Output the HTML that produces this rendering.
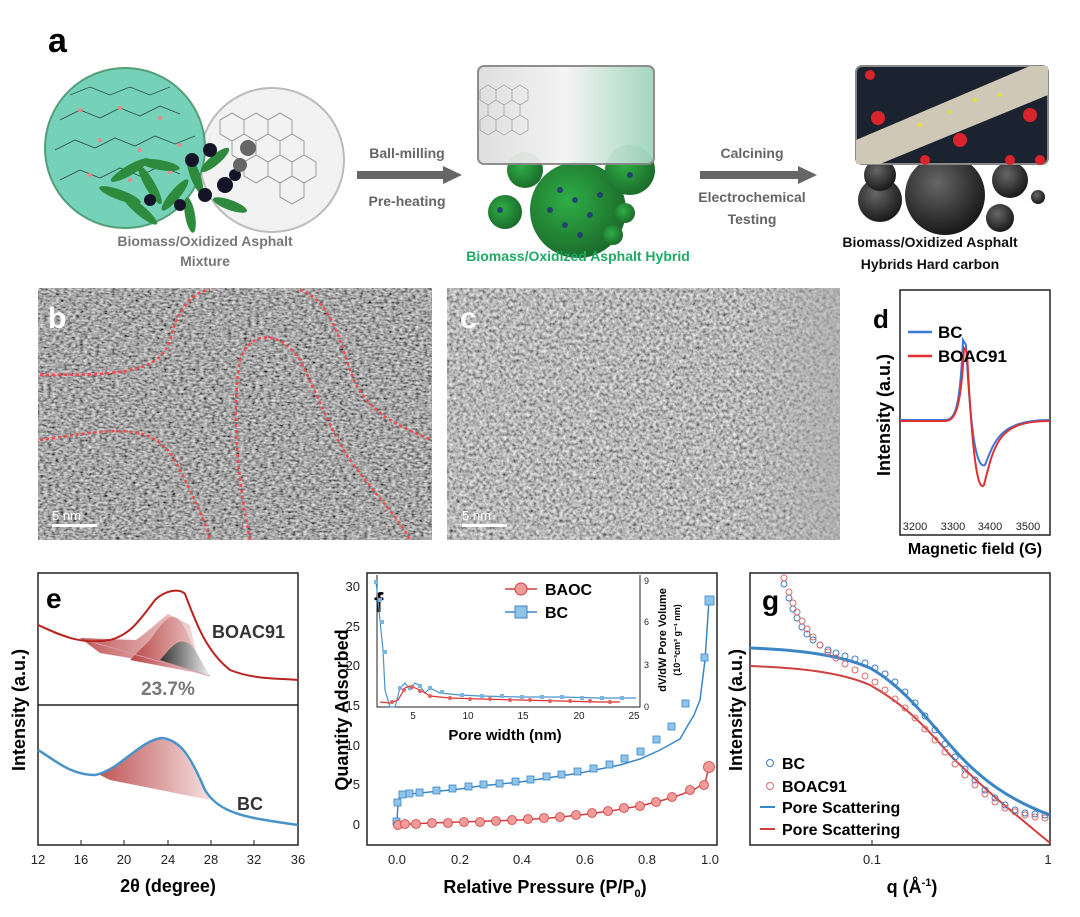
<!DOCTYPE html>
<html><head><meta charset="utf-8"><style>
html,body{margin:0;padding:0;background:#fff}
svg{display:block;font-family:"Liberation Sans",Arial,sans-serif}
</style></head><body>
<svg width="1080" height="917" viewBox="0 0 1080 917" xmlns="http://www.w3.org/2000/svg">
<defs>
<filter id="tem" x="0" y="0" width="100%" height="100%">
<feTurbulence type="fractalNoise" baseFrequency="0.25 0.45" numOctaves="2" seed="3"/>
<feColorMatrix type="matrix" values="1.1 0 0 0 -0.17  1.1 0 0 0 -0.17  1.1 0 0 0 -0.17  0 0 0 0 1"/>
</filter>
<filter id="tem2" x="0" y="0" width="100%" height="100%">
<feTurbulence type="fractalNoise" baseFrequency="0.3" numOctaves="2" seed="7"/>
<feColorMatrix type="matrix" values="1.1 0 0 0 -0.08  1.1 0 0 0 -0.08  1.1 0 0 0 -0.08  0 0 0 0 1"/>
</filter>
<radialGradient id="gs" cx="40%" cy="40%" r="60%"><stop offset="0" stop-color="#2fae45"/><stop offset="1" stop-color="#1c6d2c"/></radialGradient>
<radialGradient id="ds" cx="40%" cy="35%" r="65%"><stop offset="0" stop-color="#666"/><stop offset="1" stop-color="#1a1a1a"/></radialGradient>
<linearGradient id="mid" x1="0" x2="1"><stop offset="0" stop-color="#ddd"/><stop offset="0.5" stop-color="#f4f4f4"/><stop offset="1" stop-color="#9fd4bd"/></linearGradient>
<linearGradient id="rs" x1="0" y1="0" x2="1" y2="0"><stop offset="0" stop-color="#b84545"/><stop offset="1" stop-color="#f4dada"/></linearGradient>
<linearGradient id="gk" x1="0" y1="0" x2="1" y2="0"><stop offset="0" stop-color="#333"/><stop offset="1" stop-color="#eee"/></linearGradient>
<linearGradient id="cfade" x1="0" x2="1"><stop offset="0" stop-color="#aaa" stop-opacity="0"/><stop offset="1" stop-color="#aaa" stop-opacity="0.6"/></linearGradient>
</defs>

<!-- Panel a -->
<text x="48" y="52" font-size="34" font-weight="bold">a</text>
<circle cx="272" cy="160" r="72" fill="#f2f2f2" stroke="#bbb" stroke-width="2"/>
<g stroke="#888" stroke-width="0.8" fill="none">
<path d="M220 120 l12 -7 12 7 0 14 -12 7 -12 -7z M244 120 l12 -7 12 7 0 14 -12 7 -12 -7z M268 120 l12 -7 12 7 0 14 -12 7 -12 -7z M232 141 l12 -7 12 7 0 14 -12 7 -12 -7z M256 141 l12 -7 12 7 0 14 -12 7 -12 -7z M280 141 l12 -7 12 7 0 14 -12 7 -12 -7z M244 162 l12 -7 12 7 0 14 -12 7 -12 -7z M268 162 l12 -7 12 7 0 14 -12 7 -12 -7z M292 162 l12 -7 12 7 0 14 -12 7 -12 -7z M280 183 l12 -7 12 7 0 14 -12 7 -12 -7z"/>
</g>
<circle cx="125" cy="148" r="80" fill="#6fcfb6" stroke="#4a9a70" stroke-width="2" opacity="0.95"/>
<g stroke="#2f4f45" stroke-width="0.8" fill="none">
<path d="M60 120 l20 -10 20 8 20 -10 20 8 20 -10 20 8 M55 150 l20 -10 20 8 20 -10 20 8 20 -10 20 8 20 -8 M60 180 l20 -10 20 8 20 -10 20 8 20 -10 20 8 M70 95 l20 -8 20 8 20 -8 20 8 20 -8"/>
</g>
<g fill="#e88" ><circle cx="80" cy="110" r="2"/><circle cx="120" cy="108" r="2"/><circle cx="160" cy="118" r="2"/><circle cx="100" cy="140" r="2"/><circle cx="140" cy="150" r="2"/><circle cx="180" cy="145" r="2"/><circle cx="90" cy="175" r="2"/><circle cx="130" cy="180" r="2"/><circle cx="170" cy="172" r="2"/></g>
<g fill="#2e8b3e">
<ellipse cx="130" cy="170" rx="22" ry="5" transform="rotate(-30 130 170)"/><ellipse cx="150" cy="185" rx="22" ry="5" transform="rotate(60 150 185)"/>
<ellipse cx="120" cy="195" rx="22" ry="5" transform="rotate(20 120 195)"/><ellipse cx="175" cy="195" rx="20" ry="5" transform="rotate(-50 175 195)"/>
<ellipse cx="140" cy="210" rx="22" ry="5" transform="rotate(40 140 210)"/><ellipse cx="195" cy="175" rx="20" ry="5" transform="rotate(70 195 175)"/>
<ellipse cx="160" cy="165" rx="20" ry="5" transform="rotate(10 160 165)"/><ellipse cx="215" cy="160" rx="18" ry="5" transform="rotate(-40 215 160)"/>
<ellipse cx="230" cy="205" rx="18" ry="5" transform="rotate(20 230 205)"/><ellipse cx="190" cy="215" rx="18" ry="5" transform="rotate(80 190 215)"/>
</g>
<g fill="#15152a"><circle cx="210" cy="150" r="7"/><circle cx="192" cy="160" r="7"/><circle cx="225" cy="185" r="8"/><circle cx="205" cy="195" r="7"/><circle cx="235" cy="175" r="6"/><circle cx="180" cy="205" r="6"/><circle cx="150" cy="200" r="6"/></g>
<g fill="#666"><circle cx="248" cy="148" r="8"/><circle cx="240" cy="165" r="7"/></g>
<text x="205" y="246" font-size="14" font-weight="bold" fill="#777" text-anchor="middle">Biomass/Oxidized Asphalt</text>
<text x="205" y="266" font-size="14" font-weight="bold" fill="#777" text-anchor="middle">Mixture</text>

<text x="407" y="158" font-size="14" font-weight="bold" fill="#666" text-anchor="middle">Ball-milling</text>
<rect x="357" y="171" width="88" height="8" fill="#666"/><path d="M443 166 L462 175 L443 184z" fill="#666"/>
<text x="407" y="206" font-size="14" font-weight="bold" fill="#666" text-anchor="middle">Pre-heating</text>

<circle cx="578" cy="210" r="48" fill="url(#gs)"/><circle cx="505" cy="212" r="17" fill="url(#gs)"/>
<circle cx="630" cy="170" r="25" fill="url(#gs)"/><circle cx="525" cy="170" r="18" fill="url(#gs)"/><circle cx="625" cy="213" r="10" fill="url(#gs)"/><circle cx="613" cy="235" r="10" fill="url(#gs)"/>
<g fill="#23307a" opacity="0.8"><circle cx="560" cy="190" r="3"/><circle cx="575" cy="200" r="3"/><circle cx="590" cy="215" r="3"/><circle cx="565" cy="225" r="3"/><circle cx="600" cy="195" r="3"/><circle cx="550" cy="210" r="3"/><circle cx="580" cy="235" r="3"/><circle cx="500" cy="210" r="3"/><circle cx="630" cy="175" r="3"/></g>
<rect x="478" y="66" width="176" height="98" rx="6" fill="url(#mid)" stroke="#888" stroke-width="2" opacity="0.95"/>
<g stroke="#999" stroke-width="0.7" fill="none"><path d="M480 90 l8 -5 8 5 0 10 -8 5 -8 -5z M496 90 l8 -5 8 5 0 10 -8 5 -8 -5z M512 90 l8 -5 8 5 0 10 -8 5 -8 -5z M488 105 l8 -5 8 5 0 10 -8 5 -8 -5z M504 105 l8 -5 8 5 0 10 -8 5 -8 -5z M480 120 l8 -5 8 5 0 10 -8 5 -8 -5z M496 120 l8 -5 8 5 0 10 -8 5 -8 -5z M512 120 l8 -5 8 5 0 10 -8 5 -8 -5z"/></g>
<text x="578" y="261" font-size="14" font-weight="bold" fill="#1faa64" text-anchor="middle">Biomass/Oxidized Asphalt Hybrid</text>

<text x="752" y="158" font-size="14" font-weight="bold" fill="#666" text-anchor="middle">Calcining</text>
<rect x="700" y="171" width="100" height="8" fill="#666"/><path d="M798 166 L817 175 L798 184z" fill="#666"/>
<text x="752" y="202" font-size="14" font-weight="bold" fill="#666" text-anchor="middle">Electrochemical</text>
<text x="752" y="224" font-size="14" font-weight="bold" fill="#666" text-anchor="middle">Testing</text>

<circle cx="945" cy="195" r="40" fill="url(#ds)"/><circle cx="880" cy="200" r="22" fill="url(#ds)"/><circle cx="1010" cy="180" r="18" fill="url(#ds)"/>
<circle cx="1000" cy="218" r="14" fill="url(#ds)"/><circle cx="1038" cy="197" r="7" fill="url(#ds)"/><circle cx="880" cy="175" r="16" fill="url(#ds)"/>
<rect x="856" y="66" width="192" height="98" rx="6" fill="#1c2330" stroke="#888" stroke-width="2"/>
<path d="M856 140 L1030 66 L1048 66 L1048 95 L880 164 L856 164z" fill="#cfc8b6"/>
<g fill="#d8242a"><circle cx="870" cy="75" r="5"/><circle cx="878" cy="118" r="7"/><circle cx="960" cy="140" r="7"/><circle cx="1030" cy="115" r="7"/><circle cx="1010" cy="160" r="5"/><circle cx="925" cy="160" r="5"/><circle cx="1040" cy="160" r="5"/></g>
<g fill="#e7e030"><circle cx="950" cy="112" r="2"/><circle cx="975" cy="100" r="2"/><circle cx="1000" cy="95" r="2"/><circle cx="920" cy="125" r="2"/></g>
<text x="930" y="247" font-size="14" font-weight="bold" fill="#111" text-anchor="middle">Biomass/Oxidized Asphalt</text>
<text x="930" y="269" font-size="14" font-weight="bold" fill="#111" text-anchor="middle">Hybrids Hard carbon</text>

<!-- Panel b, c TEM -->
<rect x="38" y="288" width="394" height="252" filter="url(#tem)"/>
<rect x="447" y="288" width="393" height="252" filter="url(#tem2)"/>
<rect x="740" y="288" width="100" height="252" fill="url(#cfade)"/>
<g fill="none" stroke="#ef4b4b" stroke-width="2.5" stroke-dasharray="3 3">
<path d="M40 375 C110 375 160 375 170 340 C180 300 200 290 210 290"/>
<path d="M40 440 C110 430 150 420 175 460 C195 500 205 520 210 540"/>
<path d="M250 540 C240 490 230 420 240 360 C250 330 280 330 300 360 C320 400 330 430 350 460 C380 500 400 520 410 540"/>
<path d="M300 290 C330 300 340 340 350 370 C360 400 380 420 432 440"/>
</g>
<text x="48" y="328" font-size="30" font-weight="bold" fill="#fff">b</text>
<text x="460" y="328" font-size="30" font-weight="bold" fill="#fff">c</text>
<rect x="52" y="524" width="45" height="3" fill="#fff"/><text x="52" y="520" font-size="13" fill="#fff">5 nm</text>
<rect x="462" y="524" width="45" height="3" fill="#fff"/><text x="462" y="520" font-size="13" fill="#fff">5 nm</text>

<!-- Panel d -->
<text x="873" y="328" font-size="26" font-weight="bold">d</text>
<rect x="900" y="290" width="150" height="245" fill="none" stroke="#222" stroke-width="1.5"/>
<path d="M900 420 L945 420 C955 420 960 410 963 340 L966 345 C970 420 975 470 985 465 C995 440 1000 420 1050 420" fill="none" stroke="#3a78d8" stroke-width="2"/>
<path d="M900 421 L945 421 C955 421 961 410 964 348 L967 352 C971 430 976 495 984 485 C995 440 1000 421 1050 421" fill="none" stroke="#e03030" stroke-width="2"/>
<line x1="908" y1="332" x2="932" y2="332" stroke="#3a78d8" stroke-width="2.5"/><text x="938" y="338" font-size="17" font-weight="bold">BC</text>
<line x1="908" y1="356" x2="932" y2="356" stroke="#e03030" stroke-width="2.5"/><text x="938" y="362" font-size="17" font-weight="bold">BOAC91</text>
<g font-size="11" text-anchor="middle" fill="#222"><text x="915" y="530">3200</text><text x="953" y="530">3300</text><text x="990" y="530">3400</text><text x="1028" y="530">3500</text></g>
<text x="975" y="554" font-size="16" font-weight="bold" text-anchor="middle">Magnetic field (G)</text>
<text transform="translate(890 415) rotate(-90)" font-size="18" font-weight="bold" text-anchor="middle">Intensity (a.u.)</text>

<!-- Panel e -->
<rect x="38" y="573" width="260" height="272" fill="none" stroke="#222" stroke-width="1.5"/>
<line x1="38" y1="705" x2="298" y2="705" stroke="#222" stroke-width="1.5"/>
<path d="M80 638 L136 640 C150 630 160 620 168 614 L190 625 L200 670 L100 653z" fill="url(#rs)" opacity="0.9"/>
<path d="M150 640 C165 620 175 600 190 640 L208 675 L130 660z" fill="url(#rs)"/>
<path d="M160 660 C170 650 180 630 195 650 L210 676z" fill="url(#gk)"/>
<path d="M85 640 L210 676" stroke="#d9a" stroke-width="1"/>
<path d="M38 625 C60 635 80 645 110 640 C130 635 140 620 155 600 C165 590 180 588 185 594 C195 620 205 650 230 670 C255 680 280 678 298 680" fill="none" stroke="#b8241f" stroke-width="2"/>
<text x="212" y="638" font-size="18" font-weight="bold" fill="#333">BOAC91</text>
<text x="141" y="695" font-size="19" font-weight="bold" fill="#777">23.7%</text>
<path d="M100 775 C130 760 145 735 165 740 C185 742 195 775 210 800 L110 780z" fill="url(#rs)" opacity="0.9"/>
<path d="M38 750 C55 760 70 775 95 775 C120 770 140 740 162 738 C180 740 190 755 205 790 C220 815 250 818 298 825" fill="none" stroke="#4a93c9" stroke-width="2.5"/>
<text x="237" y="810" font-size="18" font-weight="bold" fill="#333">BC</text>
<text x="46" y="608" font-size="28" font-weight="bold">e</text>
<g stroke="#222"><line x1="81" y1="845" x2="81" y2="840"/><line x1="124" y1="845" x2="124" y2="840"/><line x1="168" y1="845" x2="168" y2="840"/><line x1="211" y1="845" x2="211" y2="840"/><line x1="254" y1="845" x2="254" y2="840"/></g>
<g font-size="13" text-anchor="middle" fill="#222"><text x="38" y="864">12</text><text x="81" y="864">16</text><text x="124" y="864">20</text><text x="168" y="864">24</text><text x="211" y="864">28</text><text x="254" y="864">32</text><text x="298" y="864">36</text></g>
<text x="168" y="892" font-size="18" font-weight="bold" text-anchor="middle">2θ (degree)</text>
<text transform="translate(25 710) rotate(-90)" font-size="18" font-weight="bold" text-anchor="middle">Intensity (a.u.)</text>

<!-- Panel f -->
<rect x="367" y="573" width="350" height="272" fill="none" stroke="#222" stroke-width="1.5"/>
<text x="374" y="612" font-size="28" font-weight="bold">f</text>
<g font-size="13" fill="#222" text-anchor="end"><text x="360" y="829">0</text><text x="360" y="789">5</text><text x="360" y="750">10</text><text x="360" y="710">15</text><text x="360" y="670">20</text><text x="360" y="631">25</text><text x="360" y="591">30</text></g>
<g font-size="13" fill="#222" text-anchor="middle"><text x="397" y="864">0.0</text><text x="460" y="864">0.2</text><text x="522" y="864">0.4</text><text x="585" y="864">0.6</text><text x="647" y="864">0.8</text><text x="710" y="864">1.0</text></g>
<text x="545" y="893" font-size="18" font-weight="bold" text-anchor="middle">Relative Pressure (P/P<tspan font-size="11" dy="4">0</tspan><tspan dy="-4">)</tspan></text>
<text transform="translate(348 710) rotate(-90)" font-size="18" font-weight="bold" text-anchor="middle">Quantity Adsorbed</text>
<!-- inset -->
<path d="M377 575 L377 707 L640 707 L640 575" fill="none" stroke="#222" stroke-width="1"/>
<g font-size="10" fill="#222" text-anchor="middle"><text x="413" y="719">5</text><text x="468" y="719">10</text><text x="523" y="719">15</text><text x="579" y="719">20</text><text x="634" y="719">25</text></g>
<g font-size="9" fill="#222"><text x="644" y="710">0</text><text x="644" y="668">3</text><text x="644" y="625">6</text><text x="644" y="584">9</text></g>
<text x="505" y="740" font-size="15" font-weight="bold" text-anchor="middle">Pore width (nm)</text>
<text transform="translate(666 640) rotate(-90)" font-size="11" font-weight="bold" text-anchor="middle">dV/dW Pore Volume</text>
<text transform="translate(680 640) rotate(-90)" font-size="9" font-weight="bold" text-anchor="middle">(10⁻³cm³ g⁻¹ nm)</text>
<polyline points="376,582 378,600 380,620 383,650 385,690 390,707 395,707 400,688 405,683 410,690 415,683 420,686 425,693 430,688 440,693 460,695 480,696 520,697 560,697 600,698 636,698" fill="none" stroke="#4a93c9" stroke-width="1.2"/>
<g fill="#7bb6e0"><rect x="374" y="580" width="4" height="4"/><rect x="378" y="598" width="4" height="4"/><rect x="380" y="620" width="4" height="4"/><rect x="383" y="650" width="4" height="4"/><rect x="398" y="686" width="4" height="4"/><rect x="408" y="686" width="4" height="4"/><rect x="418" y="684" width="4" height="4"/><rect x="428" y="686" width="4" height="4"/><rect x="440" y="690" width="4" height="4"/><rect x="460" y="693" width="4" height="4"/><rect x="480" y="694" width="4" height="4"/><rect x="500" y="694" width="4" height="4"/><rect x="520" y="695" width="4" height="4"/><rect x="540" y="695" width="4" height="4"/><rect x="560" y="695" width="4" height="4"/><rect x="580" y="696" width="4" height="4"/><rect x="600" y="696" width="4" height="4"/><rect x="620" y="696" width="4" height="4"/></g>
<polyline points="380,702 390,703 398,700 405,688 410,686 420,690 430,696 450,698 480,699 520,700 560,701 600,702 620,702" fill="none" stroke="#e03030" stroke-width="1.2"/>
<g fill="#e06060"><circle cx="392" cy="702" r="2"/><circle cx="404" cy="690" r="2"/><circle cx="412" cy="687" r="2"/><circle cx="420" cy="691" r="2"/><circle cx="430" cy="696" r="2"/><circle cx="450" cy="698" r="2"/><circle cx="470" cy="699" r="2"/><circle cx="490" cy="699" r="2"/><circle cx="510" cy="700" r="2"/><circle cx="530" cy="700" r="2"/><circle cx="550" cy="701" r="2"/><circle cx="570" cy="701" r="2"/><circle cx="590" cy="701" r="2"/><circle cx="610" cy="702" r="2"/></g>
<!-- legend -->
<line x1="505" y1="589" x2="537" y2="589" stroke="#d04040" stroke-width="1.5"/><circle cx="521" cy="589" r="6" fill="#f39a9a" stroke="#d04040"/>
<text x="545" y="595" font-size="16" font-weight="bold">BAOC</text>
<line x1="505" y1="612" x2="537" y2="612" stroke="#3b86c6" stroke-width="1.5"/><rect x="515" y="606" width="12" height="12" fill="#8ec4ea" stroke="#3b86c6"/>
<text x="545" y="618" font-size="16" font-weight="bold">BC</text>
<!-- isotherms -->
<polyline points="397,822 398,803 400,796 403,795 410,794 420,793 440,791 460,789 480,786 500,784 520,782 540,779 560,776 580,773 600,769 620,765 640,759 660,750 680,739 688,725 694,715 700,700 705,660 709,600" fill="none" stroke="#3b86c6" stroke-width="1.5"/>
<g fill="#8ec4ea" stroke="#3b86c6" stroke-width="0.8">
<rect x="393" y="818" width="7" height="7"/><rect x="394" y="799" width="7" height="7"/><rect x="399" y="791" width="7" height="7"/><rect x="406" y="790" width="7" height="7"/><rect x="416" y="789" width="7" height="7"/><rect x="433" y="787" width="7" height="7"/><rect x="449" y="785" width="7" height="7"/><rect x="465" y="783" width="7" height="7"/><rect x="480" y="781" width="7" height="7"/><rect x="496" y="780" width="7" height="7"/><rect x="512" y="778" width="7" height="7"/><rect x="527" y="776" width="7" height="7"/><rect x="543" y="773" width="7" height="7"/><rect x="558" y="771" width="7" height="7"/><rect x="574" y="768" width="7" height="7"/><rect x="590" y="765" width="7" height="7"/><rect x="606" y="761" width="7" height="7"/><rect x="621" y="755" width="7" height="7"/><rect x="637" y="748" width="7" height="7"/><rect x="653" y="736" width="7" height="7"/><rect x="668" y="723" width="7" height="7"/><rect x="682" y="700" width="7" height="7"/><rect x="701" y="654" width="7" height="7"/><rect x="705" y="596" width="9" height="9"/>
</g>
<polyline points="398,825 410,824 430,823 460,822 490,821 520,820 550,818 580,815 610,811 640,806 660,801 680,795 695,789 705,783 709,767" fill="none" stroke="#d04040" stroke-width="1.5"/>
<g fill="#f39a9a" stroke="#d04040" stroke-width="0.8">
<circle cx="398" cy="825" r="4.5"/><circle cx="405" cy="824" r="4.5"/><circle cx="416" cy="824" r="4.5"/><circle cx="432" cy="823" r="4.5"/><circle cx="448" cy="823" r="4.5"/><circle cx="464" cy="822" r="4.5"/><circle cx="480" cy="822" r="4.5"/><circle cx="496" cy="821" r="4.5"/><circle cx="512" cy="820" r="4.5"/><circle cx="528" cy="819" r="4.5"/><circle cx="544" cy="818" r="4.5"/><circle cx="560" cy="817" r="4.5"/><circle cx="576" cy="815" r="4.5"/><circle cx="592" cy="813" r="4.5"/><circle cx="608" cy="811" r="4.5"/><circle cx="624" cy="808" r="4.5"/><circle cx="640" cy="806" r="4.5"/><circle cx="656" cy="802" r="4.5"/><circle cx="672" cy="797" r="4.5"/><circle cx="690" cy="790" r="4.5"/><circle cx="704" cy="785" r="4.5"/><circle cx="709" cy="767" r="5.5"/>
</g>

<!-- Panel g -->
<rect x="750" y="573" width="300" height="272" fill="none" stroke="#222" stroke-width="1.5"/>
<text x="762" y="610" font-size="28" font-weight="bold">g</text>
<text transform="translate(742 710) rotate(-90)" font-size="18" font-weight="bold" text-anchor="middle">Intensity (a.u.)</text>
<g font-size="13" text-anchor="middle" fill="#222"><text x="872" y="864">0.1</text><text x="1048" y="864">1</text></g>
<line x1="872" y1="845" x2="872" y2="840" stroke="#222"/>
<text x="912" y="893" font-size="18" font-weight="bold" text-anchor="middle">q (Å<tspan font-size="11" dy="-7">-1</tspan><tspan dy="7">)</tspan></text>
<path d="M750 648 C800 650 840 655 870 668 C900 685 920 710 950 745 C980 780 1010 800 1050 815" fill="none" stroke="#3b86c6" stroke-width="3"/>
<path d="M750 666 C800 668 840 672 870 685 C900 702 920 720 950 755 C985 790 1010 810 1050 843" fill="none" stroke="#d04040" stroke-width="2"/>
<g fill="none" stroke="#3b7ac0" stroke-width="1">
<circle cx="784" cy="584" r="3"/><circle cx="789" cy="598" r="3"/><circle cx="793" cy="609" r="3"/><circle cx="797" cy="618" r="3"/><circle cx="802" cy="627" r="3"/><circle cx="807" cy="634" r="3"/><circle cx="813" cy="640" r="3"/><circle cx="820" cy="645" r="3"/><circle cx="828" cy="650" r="3"/><circle cx="836" cy="653" r="3"/><circle cx="845" cy="656" r="3"/><circle cx="855" cy="659" r="3"/><circle cx="865" cy="663" r="3"/><circle cx="875" cy="668" r="3"/><circle cx="885" cy="674" r="3"/><circle cx="895" cy="682" r="3"/><circle cx="905" cy="692" r="3"/><circle cx="915" cy="703" r="3"/><circle cx="925" cy="716" r="3"/><circle cx="935" cy="730" r="3"/><circle cx="945" cy="744" r="3"/><circle cx="955" cy="757" r="3"/><circle cx="965" cy="769" r="3"/><circle cx="975" cy="780" r="3"/><circle cx="985" cy="790" r="3"/><circle cx="995" cy="798" r="3"/><circle cx="1005" cy="805" r="3"/><circle cx="1015" cy="810" r="3"/><circle cx="1025" cy="813" r="3"/><circle cx="1035" cy="814" r="3"/><circle cx="1045" cy="815" r="3"/>
</g>
<g fill="none" stroke="#d86a6a" stroke-width="1">
<circle cx="784" cy="578" r="3"/><circle cx="789" cy="592" r="3"/><circle cx="793" cy="603" r="3"/><circle cx="797" cy="612" r="3"/><circle cx="802" cy="621" r="3"/><circle cx="807" cy="629" r="3"/><circle cx="813" cy="637" r="3"/><circle cx="820" cy="645" r="3"/><circle cx="828" cy="652" r="3"/><circle cx="836" cy="658" r="3"/><circle cx="845" cy="664" r="3"/><circle cx="855" cy="670" r="3"/><circle cx="865" cy="676" r="3"/><circle cx="875" cy="682" r="3"/><circle cx="885" cy="690" r="3"/><circle cx="895" cy="699" r="3"/><circle cx="905" cy="708" r="3"/><circle cx="915" cy="718" r="3"/><circle cx="925" cy="729" r="3"/><circle cx="935" cy="740" r="3"/><circle cx="945" cy="752" r="3"/><circle cx="955" cy="764" r="3"/><circle cx="965" cy="775" r="3"/><circle cx="975" cy="785" r="3"/><circle cx="985" cy="794" r="3"/><circle cx="995" cy="802" r="3"/><circle cx="1005" cy="808" r="3"/><circle cx="1015" cy="812" r="3"/><circle cx="1025" cy="815" r="3"/><circle cx="1035" cy="817" r="3"/><circle cx="1045" cy="818" r="3"/>
</g>
<circle cx="770" cy="763" r="3.5" fill="none" stroke="#3b7ac0"/><text x="782" y="769" font-size="16" font-weight="bold">BC</text>
<circle cx="770" cy="786" r="3.5" fill="none" stroke="#d86a6a"/><text x="782" y="792" font-size="16" font-weight="bold">BOAC91</text>
<line x1="760" y1="807" x2="775" y2="807" stroke="#3b86c6" stroke-width="2"/><text x="782" y="813" font-size="16" font-weight="bold">Pore Scattering</text>
<line x1="760" y1="829" x2="775" y2="829" stroke="#d04040" stroke-width="2"/><text x="782" y="835" font-size="16" font-weight="bold">Pore Scattering</text>
</svg>
</body></html>
